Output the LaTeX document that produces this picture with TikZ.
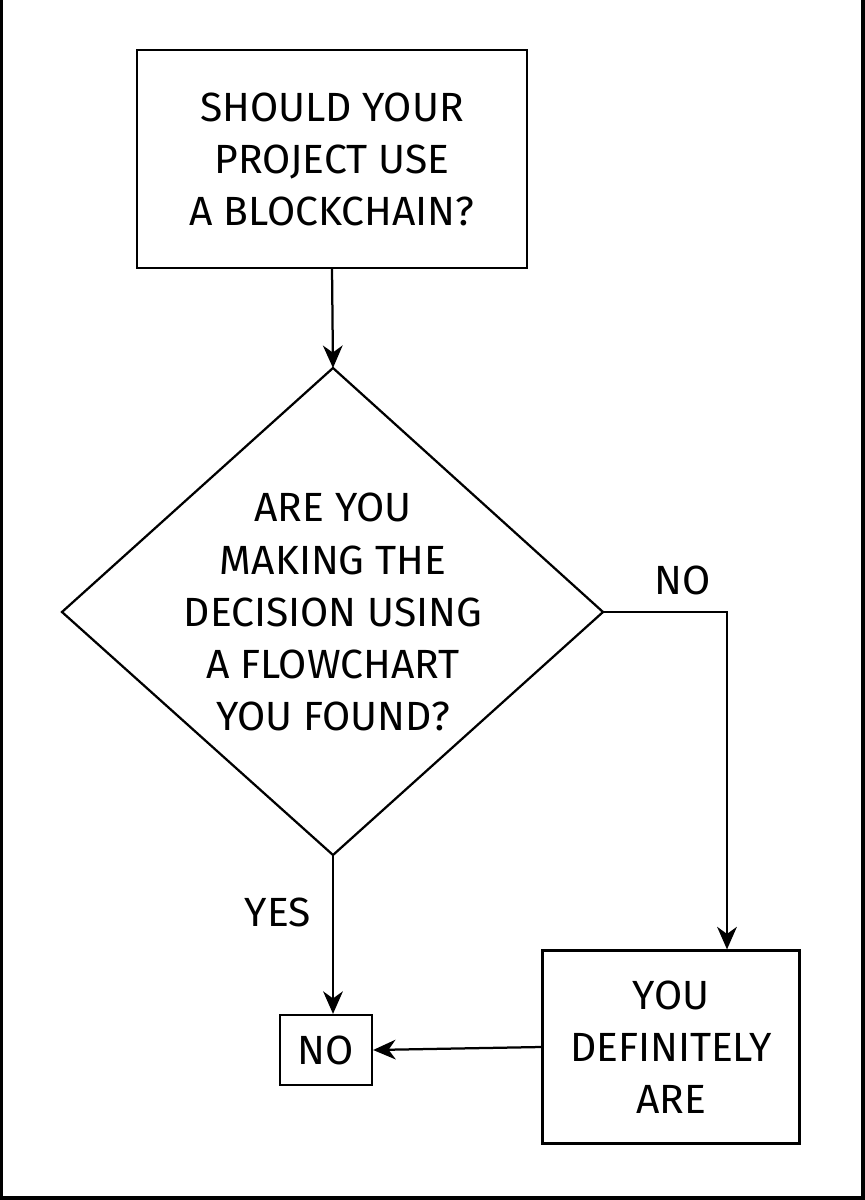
\documentclass[tikz,border=0pt]{standalone}
\usepackage{fontspec}
\setmainfont{Fira Sans}
\usetikzlibrary{arrows.meta}
\begin{document}
\begin{tikzpicture}[x=0.025cm,y=-0.025cm,
  txt/.style={align=center,font=\fontsize{29}{37}\selectfont},
  line/.style={line width=1.6pt},
  arr/.style={line, -{Stealth[length=16pt,width=14pt,inset=5pt]}}]
\useasboundingbox (0,0) rectangle (865,1200);
\draw[line width=3pt] (1,0) -- (1,1198) -- (863,1198) -- (863,0);
\draw[line] (137,50) rectangle (527,268);
\node[txt] (start) at (332,159) {SHOULD YOUR\\PROJECT USE\\A BLOCKCHAIN?};
\coordinate (startb) at (332,268);
\draw[line] (333,368) -- (603,612) -- (333,855) -- (62,612) -- cycle;
\coordinate (dt) at (333,368);
\coordinate (dr) at (603,612);
\coordinate (db) at (333,855);
\node[txt] (dec) at (333,612) {ARE YOU\\MAKING THE\\DECISION USING\\A FLOWCHART\\YOU FOUND?};
\node[txt,draw,line,inner sep=0pt,minimum width=92*0.025cm,minimum height=70*0.025cm] (no) at (326,1050) {NO};
\node[txt,draw,line,minimum width=257*0.025cm,minimum height=193*0.025cm] (def) at (671,1047) {YOU\\DEFINITELY\\ARE};
\draw[arr] (startb) -- (dt);
\draw[arr] (dr) -- (727,612) -- (def.north -| 727,0);
\node[txt] at (683,580) {NO};
\draw[arr] (db) -- (no.north -| db);
\node[txt] at (278,912) {YES};
\draw[arr] (def.west) -- (no.east);
\end{tikzpicture}
\end{document}
